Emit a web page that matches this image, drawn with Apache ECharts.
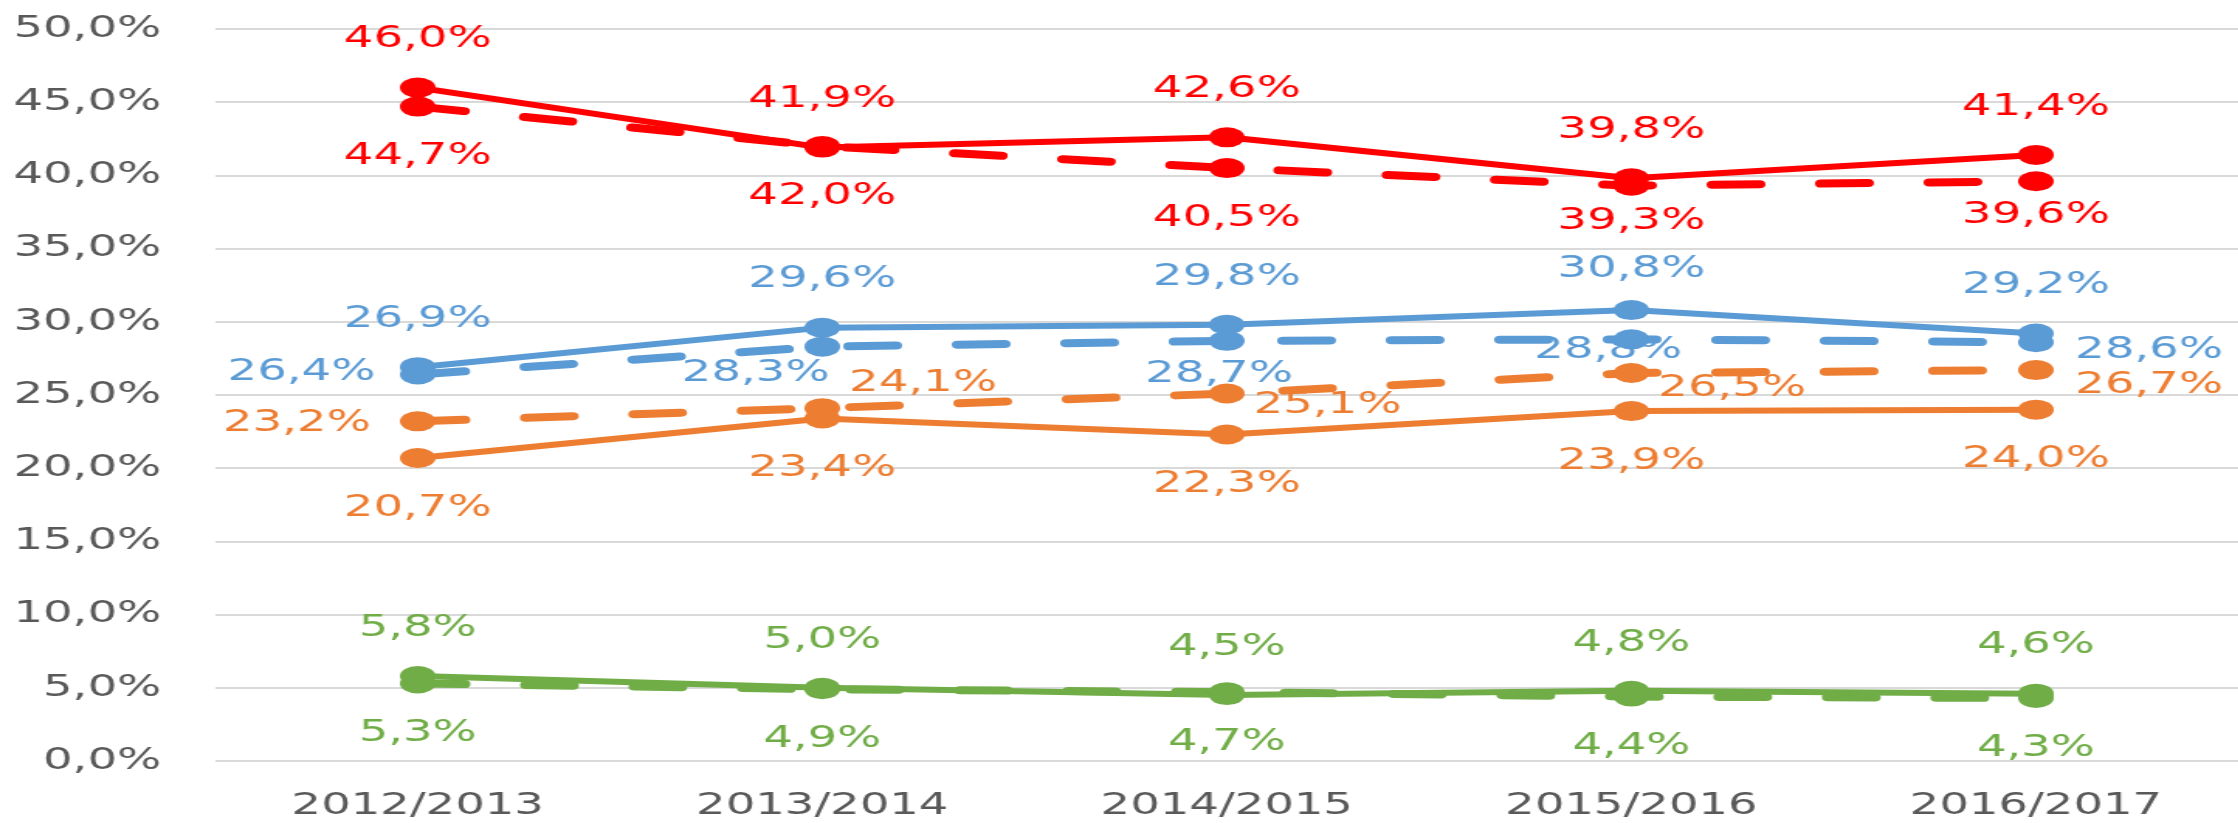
<!DOCTYPE html>
<html>
<head>
<meta charset="utf-8">
<script src="https://cdn.jsdelivr.net/npm/echarts@6/dist/echarts.min.js"></script>
<style>
html, body { margin: 0; padding: 0; background: #fff; overflow: hidden; }
/* the reference is stretched sideways, so the chart is drawn narrow and widened */
#chart { width: 1444px; height: 823px; transform: scaleX(1.55); transform-origin: 0 0; }
</style>
</head>
<body>
<div id="chart"></div>
<script>
// categories
const years = ['2012/2013', '2013/2014', '2014/2015', '2015/2016', '2016/2017']

// series values (%)
const redSolid = [46.0, 41.9, 42.6, 39.8, 41.4]
const redDashed = [44.7, 42.0, 40.5, 39.3, 39.6]
const blueSolid = [26.9, 29.6, 29.8, 30.8, 29.2]
const blueDashed = [26.4, 28.3, 28.7, 28.8, 28.6]
const orangeDashed = [23.2, 24.1, 25.1, 26.5, 26.7]
const orangeSolid = [20.7, 23.4, 22.3, 23.9, 24.0]
const greenSolid = [5.8, 5.0, 4.5, 4.8, 4.6]
const greenDashed = [5.3, 4.9, 4.7, 4.4, 4.3]

// y axis ticks
const yMin = 0
const yMax = 50
const yStep = 5

const font = 'DejaVu Sans'
const pct = (v) => v.toFixed(1).replace('.', ',') + '%'

// build one line series; side = where labels sit, moves = per point label offsets
const makeSeries = (values, color, dashed, side, moves) => ({
  type: 'line',
  data: values.map((v, i) => (moves[i] ? { value: v, label: { offset: moves[i] } } : v)),
  symbol: 'circle',
  symbolSize: [23, 20],
  itemStyle: { color: color },
  lineStyle: dashed
    ? { color: color, width: 8, type: [30, 40], cap: 'round' }
    : { color: color, width: 6 },
  label: {
    show: true,
    position: 'inside',
    offset: side === 'top' ? [0, -48] : [0, 50],
    color: color,
    fontSize: 30,
    fontFamily: font,
    formatter: (p) => pct(p.value)
  }
})

const option = {
  animation: false,
  backgroundColor: '#fff',
  grid: { left: 139, right: 0, top: 29, bottom: 62 },
  xAxis: {
    type: 'category',
    data: years,
    axisLine: { show: false },
    axisTick: { show: false },
    axisLabel: { color: '#595959', fontSize: 30, fontFamily: font, margin: 30 }
  },
  yAxis: {
    type: 'value',
    min: yMin,
    max: yMax,
    interval: yStep,
    axisLabel: { color: '#595959', fontSize: 30, fontFamily: font, margin: 35, formatter: pct },
    splitLine: { lineStyle: { color: '#d9d9d9', width: 2 } }
  },
  series: [
    makeSeries(greenDashed, '#70AD47', true, 'bottom', {}),
    makeSeries(greenSolid, '#70AD47', false, 'top', {}),
    makeSeries(orangeDashed, '#ED7D31', true, 'right', {
      0: [-78, 2], 1: [65, -25], 2: [65, 12], 3: [65, 15], 4: [73, 15]
    }),
    makeSeries(orangeSolid, '#ED7D31', false, 'bottom', {}),
    makeSeries(blueDashed, '#5B9BD5', true, 'bottom', {
      0: [-75, -2], 1: [-43, 27], 2: [-5, 33], 3: [-15, 11], 4: [73, 8]
    }),
    makeSeries(blueSolid, '#5B9BD5', false, 'top', { 3: [0, -41] }),
    makeSeries(redDashed, '#FF0000', true, 'bottom', { 3: [0, 36], 4: [0, 34] }),
    makeSeries(redSolid, '#FF0000', false, 'top', {})
  ]
}

const chart = echarts.init(document.getElementById('chart'))
chart.setOption(option)
</script>
</body>
</html>
